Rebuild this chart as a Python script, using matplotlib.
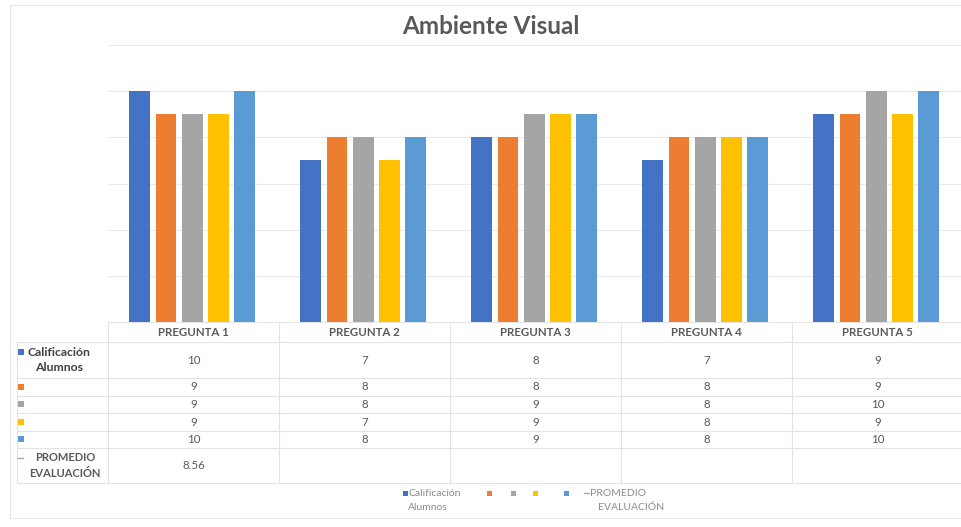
import numpy as np
import matplotlib
matplotlib.use("Agg")
import matplotlib.pyplot as plt
from matplotlib.patches import Rectangle

plt.rcParams['font.family'] = ['Lato', 'DejaVu Sans']

# ---- data ----
title = "Ambiente Visual"
categories = ["PREGUNTA 1", "PREGUNTA 2", "PREGUNTA 3", "PREGUNTA 4", "PREGUNTA 5"]
series_labels = ["Calificación\nAlumnos", "", "", "", ""]
series_values = [
    [10, 7, 8, 7, 9],
    [9, 8, 8, 8, 9],
    [9, 8, 9, 8, 10],
    [9, 7, 9, 8, 9],
    [10, 8, 9, 8, 10],
]
promedio_label = "PROMEDIO\nEVALUACIÓN"
promedio_values = [8.56, None, None, None, None]

colors = ["#4472C4", "#ED7D31", "#A5A5A5", "#FFC000", "#5B9BD5"]
line_color = "#A5A5A5"
text_color = "#595959"
grid_color = "#EAEAEA"
table_color = "#E3E3E3"

W, H = 962, 527
fig = plt.figure(figsize=(W / 100, H / 100), dpi=100)

# overlay in pixel coordinates for the data table, legend and frame
ov = fig.add_axes([0, 0, 1, 1])
ov.set_xlim(0, W)
ov.set_ylim(H, 0)
ov.axis("off")

# chart frame
ov.add_patch(Rectangle((10, 5), W - 9, 513, fill=False, edgecolor="#E6E6E6", lw=0.8))

# plot area geometry (pixels)
x0, cw = 108, 171
y_top, y_bot = 45, 322
ax = fig.add_axes([x0 / W, (H - y_bot) / H, cw * len(categories) / W, (y_bot - y_top) / H])
ax.set_facecolor("none")

n = len(categories)
xs = np.arange(n)
bw, step = 0.122, 0.153
for j, (vals, c) in enumerate(zip(series_values, colors)):
    ax.bar(xs + (j - 2) * step - 0.008, vals, width=bw, color=c, zorder=3)
prom = np.array([np.nan if v is None else v for v in promedio_values], dtype=float)
ax.plot(xs, prom, color=line_color, lw=1.5, zorder=4)

ax.set_xlim(-0.5, n - 0.5)
ax.set_ylim(0, 12)
ax.set_yticks(np.arange(2, 13, 2))
ax.grid(axis="y", color=grid_color, lw=0.8, zorder=0)
ax.tick_params(left=False, bottom=False, labelleft=False, labelbottom=False)
for s in ax.spines.values():
    s.set_visible(False)

# title
ov.text(491, 26, title, ha="center", va="center", fontsize=17.5, fontweight="bold",
        color=text_color)

# ---- data table ----
row_edges = [342, 378, 396, 413, 431, 448, 483]
x_left = 17
x_right = x0 + cw * n
for y in row_edges:
    ov.plot([x_left, x_right], [y, y], color=table_color, lw=0.8)
ov.plot([x0, x_right], [y_bot, y_bot], color=table_color, lw=0.8)
ov.plot([x_left, x_left], [row_edges[0], row_edges[-1]], color=table_color, lw=0.8)
for k in range(n + 1):
    ov.plot([x0 + cw * k, x0 + cw * k], [y_bot, row_edges[-1]], color=table_color, lw=0.8)

# header
for i, cat in enumerate(categories):
    ov.text(x0 + cw * (i + 0.5), 332, cat, ha="center", va="center", fontsize=8.3,
            fontweight="bold", color=text_color)

# series rows
for j, vals in enumerate(series_values):
    yc = (row_edges[j] + row_edges[j + 1]) / 2
    ov.add_patch(Rectangle((18, yc - 3.5 if j else 348.5), 6, 6, color=colors[j], lw=0))
    if series_labels[j]:
        ov.text(59, yc, series_labels[j], ha="center", va="center", fontsize=8.8,
                fontweight="bold", color="#404040", linespacing=1.4)
    for i, v in enumerate(vals):
        ov.text(x0 + cw * (i + 0.5), yc, str(v), ha="center", va="center",
                fontsize=8.3, color=text_color)

# average row
yc = (row_edges[5] + row_edges[6]) / 2
ov.plot([18, 23], [458, 458], color=line_color, lw=1)
ov.text(65, yc, promedio_label, ha="center", va="center", fontsize=8,
        fontweight="bold", color=text_color, linespacing=1.55)
for i, v in enumerate(promedio_values):
    if v is not None:
        ov.text(x0 + cw * (i + 0.5), yc, f"{v:.2f}", ha="center", va="center",
                fontsize=8.3, color=text_color)

# ---- legend ----
leg_color = "#8C8C8C"
leg_fs = 7.5
leg_y1, leg_y2 = 493, 507
key_x = [403, 487, 511, 533, 564]
for kx, c, lab in zip(key_x, colors, series_labels):
    ov.add_patch(Rectangle((kx, leg_y1 - 2.5), 5, 5, color=c, lw=0))
    if lab:
        first, second = lab.split("\n")
        ov.text(kx + 6, leg_y1, first, ha="left", va="center", fontsize=leg_fs, color=leg_color)
        ov.text(kx + 5, leg_y2, second, ha="left", va="center", fontsize=leg_fs, color=leg_color)
ov.plot([584, 589], [leg_y1, leg_y1], color=line_color, lw=1)
p1, p2 = promedio_label.split("\n")
ov.text(590, leg_y1, p1, ha="left", va="center", fontsize=leg_fs, color=leg_color)
ov.text(598, leg_y2, p2, ha="left", va="center", fontsize=leg_fs, color=leg_color)

fig.savefig("out.png", dpi=100)
